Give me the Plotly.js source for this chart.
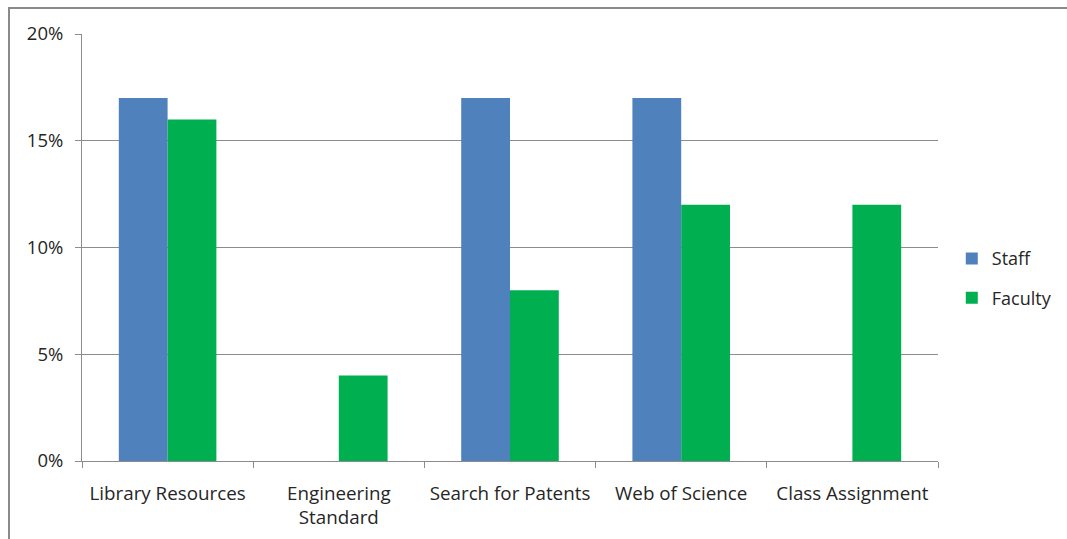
<!DOCTYPE html>
<html>
<head>
<meta charset="utf-8">
<script src="https://cdn.plot.ly/plotly-3.0.1.min.js"></script>
<style>
  html, body { margin: 0; padding: 0; background: #fff; overflow: hidden; }
  #frame { position: absolute; left: 8px; top: 7px; width: 1059px; height: 532px;
           border-left: 2px solid #8a8a8a; border-top: 2px solid #8a8a8a; }
  #chart { width: 1057px; height: 530px; }
</style>
</head>
<body>
<div id="frame"><div id="chart"></div></div>
<script>
const categories = ["Library Resources", "Engineering<br>Standard", "Search for Patents", "Web of Science", "Class Assignment"];
const staffValues = [17, 0, 17, 17, 0];
const facultyValues = [16, 4, 8, 12, 12];
const yTicks = [0, 5, 10, 15, 20];

const fontFam = "Open Sans, sans-serif";
const data = [
  { type: "bar", name: "Staff", legendgroup: "a", x: categories, y: staffValues, marker: { color: "#4F81BD" }, hoverinfo: "skip" },
  { type: "bar", name: "Faculty", legendgroup: "b", x: categories, y: facultyValues, marker: { color: "#00B050" }, hoverinfo: "skip" }
];
const layout = {
  width: 1057, height: 530,
  margin: { l: 72, r: 129, t: 25, b: 78, pad: 0, autoexpand: false },
  paper_bgcolor: "#ffffff", plot_bgcolor: "#ffffff",
  barmode: "group", bargap: 0.43, bargroupgap: 0,
  font: { family: fontFam, size: 18.5, color: "#262626" },
  showlegend: true,
  legend: { xref: "container", x: 0.891, y: 0.492, yref: "container", xanchor: "left", yanchor: "middle",
            font: { size: 18, color: "#262626" }, traceorder: "grouped",
            tracegroupgap: 13, itemwidth: 30, bgcolor: "rgba(0,0,0,0)" },
  xaxis: {
    type: "category", showgrid: false, showline: true, linecolor: "#8c8c8c", linewidth: 1,
    ticks: "outside", tickson: "boundaries", ticklen: 6, tickcolor: "#8c8c8c",
    ticklabelstandoff: 15,
    tickfont: { size: 18.8, color: "#262626" }, fixedrange: true
  },
  yaxis: {
    range: [0, 20], tickvals: yTicks, ticktext: yTicks.map(v => v + "%"),
    showgrid: true, gridcolor: "#8c8c8c", gridwidth: 1, zeroline: false,
    showline: true, linecolor: "#8c8c8c", linewidth: 1,
    ticks: "outside", ticklen: 6, tickcolor: "#8c8c8c",
    ticklabelstandoff: 8,
    tickfont: { size: 18.5, color: "#262626" }, fixedrange: true
  }
};
Plotly.newPlot("chart", data, layout, { displayModeBar: false, staticPlot: true });
</script>
</body>
</html>
